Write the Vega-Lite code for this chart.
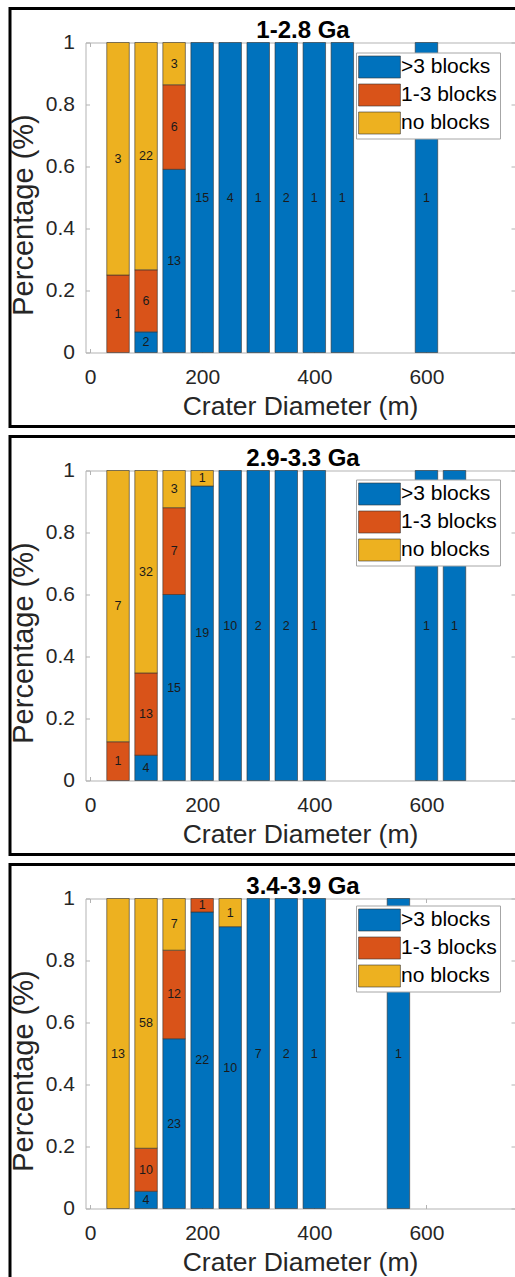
{
  "$schema": "https://vega.github.io/schema/vega-lite/v6.json",
  "padding": {"left": 7, "top": 6.5, "right": 0, "bottom": 0},
  "background": "white",
  "spacing": 6,
  "datasets": {
    "blocks": [
      {"panel": "1-2.8 Ga", "diam": 50, "cat": "1-3 blocks", "lvl": 1, "n": 1},
      {"panel": "1-2.8 Ga", "diam": 50, "cat": "no blocks", "lvl": 0, "n": 3},
      {"panel": "1-2.8 Ga", "diam": 100, "cat": ">3 blocks", "lvl": 2, "n": 2},
      {"panel": "1-2.8 Ga", "diam": 100, "cat": "1-3 blocks", "lvl": 1, "n": 6},
      {"panel": "1-2.8 Ga", "diam": 100, "cat": "no blocks", "lvl": 0, "n": 22},
      {"panel": "1-2.8 Ga", "diam": 150, "cat": ">3 blocks", "lvl": 2, "n": 13},
      {"panel": "1-2.8 Ga", "diam": 150, "cat": "1-3 blocks", "lvl": 1, "n": 6},
      {"panel": "1-2.8 Ga", "diam": 150, "cat": "no blocks", "lvl": 0, "n": 3},
      {"panel": "1-2.8 Ga", "diam": 200, "cat": ">3 blocks", "lvl": 2, "n": 15},
      {"panel": "1-2.8 Ga", "diam": 250, "cat": ">3 blocks", "lvl": 2, "n": 4},
      {"panel": "1-2.8 Ga", "diam": 300, "cat": ">3 blocks", "lvl": 2, "n": 1},
      {"panel": "1-2.8 Ga", "diam": 350, "cat": ">3 blocks", "lvl": 2, "n": 2},
      {"panel": "1-2.8 Ga", "diam": 400, "cat": ">3 blocks", "lvl": 2, "n": 1},
      {"panel": "1-2.8 Ga", "diam": 450, "cat": ">3 blocks", "lvl": 2, "n": 1},
      {"panel": "1-2.8 Ga", "diam": 600, "cat": ">3 blocks", "lvl": 2, "n": 1},
      {"panel": "2.9-3.3 Ga", "diam": 50, "cat": "1-3 blocks", "lvl": 1, "n": 1},
      {"panel": "2.9-3.3 Ga", "diam": 50, "cat": "no blocks", "lvl": 0, "n": 7},
      {"panel": "2.9-3.3 Ga", "diam": 100, "cat": ">3 blocks", "lvl": 2, "n": 4},
      {"panel": "2.9-3.3 Ga", "diam": 100, "cat": "1-3 blocks", "lvl": 1, "n": 13},
      {"panel": "2.9-3.3 Ga", "diam": 100, "cat": "no blocks", "lvl": 0, "n": 32},
      {"panel": "2.9-3.3 Ga", "diam": 150, "cat": ">3 blocks", "lvl": 2, "n": 15},
      {"panel": "2.9-3.3 Ga", "diam": 150, "cat": "1-3 blocks", "lvl": 1, "n": 7},
      {"panel": "2.9-3.3 Ga", "diam": 150, "cat": "no blocks", "lvl": 0, "n": 3},
      {"panel": "2.9-3.3 Ga", "diam": 200, "cat": ">3 blocks", "lvl": 2, "n": 19},
      {"panel": "2.9-3.3 Ga", "diam": 200, "cat": "no blocks", "lvl": 0, "n": 1},
      {"panel": "2.9-3.3 Ga", "diam": 250, "cat": ">3 blocks", "lvl": 2, "n": 10},
      {"panel": "2.9-3.3 Ga", "diam": 300, "cat": ">3 blocks", "lvl": 2, "n": 2},
      {"panel": "2.9-3.3 Ga", "diam": 350, "cat": ">3 blocks", "lvl": 2, "n": 2},
      {"panel": "2.9-3.3 Ga", "diam": 400, "cat": ">3 blocks", "lvl": 2, "n": 1},
      {"panel": "2.9-3.3 Ga", "diam": 600, "cat": ">3 blocks", "lvl": 2, "n": 1},
      {"panel": "2.9-3.3 Ga", "diam": 650, "cat": ">3 blocks", "lvl": 2, "n": 1},
      {"panel": "3.4-3.9 Ga", "diam": 50, "cat": "no blocks", "lvl": 0, "n": 13},
      {"panel": "3.4-3.9 Ga", "diam": 100, "cat": ">3 blocks", "lvl": 2, "n": 4},
      {"panel": "3.4-3.9 Ga", "diam": 100, "cat": "1-3 blocks", "lvl": 1, "n": 10},
      {"panel": "3.4-3.9 Ga", "diam": 100, "cat": "no blocks", "lvl": 0, "n": 58},
      {"panel": "3.4-3.9 Ga", "diam": 150, "cat": ">3 blocks", "lvl": 2, "n": 23},
      {"panel": "3.4-3.9 Ga", "diam": 150, "cat": "1-3 blocks", "lvl": 1, "n": 12},
      {"panel": "3.4-3.9 Ga", "diam": 150, "cat": "no blocks", "lvl": 0, "n": 7},
      {"panel": "3.4-3.9 Ga", "diam": 200, "cat": ">3 blocks", "lvl": 2, "n": 22},
      {"panel": "3.4-3.9 Ga", "diam": 200, "cat": "1-3 blocks", "lvl": 1, "n": 1},
      {"panel": "3.4-3.9 Ga", "diam": 250, "cat": ">3 blocks", "lvl": 2, "n": 10},
      {"panel": "3.4-3.9 Ga", "diam": 250, "cat": "no blocks", "lvl": 0, "n": 1},
      {"panel": "3.4-3.9 Ga", "diam": 300, "cat": ">3 blocks", "lvl": 2, "n": 7},
      {"panel": "3.4-3.9 Ga", "diam": 350, "cat": ">3 blocks", "lvl": 2, "n": 2},
      {"panel": "3.4-3.9 Ga", "diam": 400, "cat": ">3 blocks", "lvl": 2, "n": 1},
      {"panel": "3.4-3.9 Ga", "diam": 550, "cat": ">3 blocks", "lvl": 2, "n": 1}
    ]
  },
  "config": {
    "view": {"stroke": "black", "strokeWidth": 3},
    "font": "Liberation Sans",
    "axis": {"grid": false, "labelFont": "Liberation Sans", "titleFont": "Liberation Sans"},
    "title": {"font": "Liberation Sans"}
  },
  "resolve": {"scale": {"color": "independent"}, "legend": {"color": "independent"}},
  "vconcat": [
    {
      "width": 510, "height": 418,
      "title": {"text": "1-2.8 Ga", "fontSize": 24, "fontWeight": "bold", "color": "black", "anchor": "middle", "frame": "group", "dx": 38, "offset": -34},
      "data": {"name": "blocks"},
      "transform": [
        {"filter": "datum.panel === '1-2.8 Ga'"},
        {"stack": "n", "groupby": ["diam"], "sort": [{"field": "lvl", "order": "descending"}], "offset": "normalize", "as": ["y0", "y1"]}
      ],
      "layer": [
        {
          "mark": {"type": "bar", "width": 22.5, "stroke": "#333333", "strokeWidth": 0.6},
          "encoding": {
            "x": {"field": "diam", "type": "quantitative",
              "scale": {"domain": [-8, 757], "range": [75.5, 504.5], "nice": false, "zero": false, "padding": 0},
              "axis": {"orient": "bottom", "offset": -74, "values": [0, 200, 400, 600], "title": "Crater Diameter (m)", "titleFontSize": 26.5, "titleFontWeight": "normal", "titleColor": "#262626", "labelFontSize": 21, "labelColor": "#262626", "domainColor": "#b3b3b3", "tickColor": "#b3b3b3", "tickSize": -4, "labelPadding": 18, "labelFlush": false, "labelOverlap": false, "titlePadding": 6}},
            "y": {"field": "y0", "type": "quantitative",
              "scale": {"domain": [0, 1], "range": [344, 34], "nice": false, "zero": false, "padding": 0},
              "axis": {"orient": "left", "offset": -75.5, "values": [0, 0.2, 0.4, 0.6, 0.8, 1], "format": "~g", "title": "Percentage (%)", "titleFontSize": 29, "titleFontWeight": "normal", "titleColor": "#262626", "labelFontSize": 21, "labelColor": "#262626", "domainColor": "#b3b3b3", "tickColor": "#b3b3b3", "tickSize": -4, "labelPadding": 15, "labelFlush": false, "labelOverlap": false, "titleX": -47.5, "titleY": 206}},
            "y2": {"field": "y1"},
            "color": {"field": "cat", "type": "nominal",
              "scale": {"domain": [">3 blocks", "1-3 blocks", "no blocks"], "range": ["#0072BD", "#D95319", "#EDB120"]},
              "legend": {"orient": "none", "legendX": 346, "legendY": 44, "title": null, "labelFontSize": 21, "labelColor": "black", "labelFont": "Liberation Sans", "symbolType": "M-1.9,-1H1.9V1H-1.9Z", "symbolSize": 484, "symbolStrokeColor": "#333333", "symbolStrokeWidth": 0.6, "symbolOpacity": 1, "fillColor": "white", "strokeColor": "#a6a6a6", "padding": 3, "rowPadding": 3, "labelOffset": 10, "symbolOffset": 9}}
          }
        },
        {
          "transform": [
            {"fold": ["y0", "y1"], "as": ["k", "v"]},
            {"aggregate": [{"op": "mean", "field": "v", "as": "mid"}], "groupby": ["diam", "cat", "n"]}
          ],
          "mark": {"type": "text", "fontSize": 12.5, "color": "#1a1a1a"},
          "encoding": {
            "x": {"field": "diam", "type": "quantitative",
              "axis": {"orient": "top", "offset": -34, "values": [0, 200, 400, 600], "labels": false, "title": null, "domainColor": "#b3b3b3", "tickColor": "#b3b3b3", "tickSize": -4}},
            "y": {"field": "mid", "type": "quantitative",
              "axis": {"orient": "right", "offset": -5, "values": [0, 0.2, 0.4, 0.6, 0.8, 1], "labels": false, "title": null, "domainColor": "#b3b3b3", "tickColor": "#b3b3b3", "tickSize": -4}},
            "text": {"field": "n", "type": "quantitative"}
          }
        }
      ],
      "resolve": {"axis": {"x": "independent", "y": "independent"}}
    },
    {
      "width": 510, "height": 418,
      "title": {"text": "2.9-3.3 Ga", "fontSize": 24, "fontWeight": "bold", "color": "black", "anchor": "middle", "frame": "group", "dx": 38, "offset": -34},
      "data": {"name": "blocks"},
      "transform": [
        {"filter": "datum.panel === '2.9-3.3 Ga'"},
        {"stack": "n", "groupby": ["diam"], "sort": [{"field": "lvl", "order": "descending"}], "offset": "normalize", "as": ["y0", "y1"]}
      ],
      "layer": [
        {
          "mark": {"type": "bar", "width": 22.5, "stroke": "#333333", "strokeWidth": 0.6},
          "encoding": {
            "x": {"field": "diam", "type": "quantitative",
              "scale": {"domain": [-8, 757], "range": [75.5, 504.5], "nice": false, "zero": false, "padding": 0},
              "axis": {"orient": "bottom", "offset": -74, "values": [0, 200, 400, 600], "title": "Crater Diameter (m)", "titleFontSize": 26.5, "titleFontWeight": "normal", "titleColor": "#262626", "labelFontSize": 21, "labelColor": "#262626", "domainColor": "#b3b3b3", "tickColor": "#b3b3b3", "tickSize": -4, "labelPadding": 18, "labelFlush": false, "labelOverlap": false, "titlePadding": 6}},
            "y": {"field": "y0", "type": "quantitative",
              "scale": {"domain": [0, 1], "range": [344, 34], "nice": false, "zero": false, "padding": 0},
              "axis": {"orient": "left", "offset": -75.5, "values": [0, 0.2, 0.4, 0.6, 0.8, 1], "format": "~g", "title": "Percentage (%)", "titleFontSize": 29, "titleFontWeight": "normal", "titleColor": "#262626", "labelFontSize": 21, "labelColor": "#262626", "domainColor": "#b3b3b3", "tickColor": "#b3b3b3", "tickSize": -4, "labelPadding": 15, "labelFlush": false, "labelOverlap": false, "titleX": -47.5, "titleY": 206}},
            "y2": {"field": "y1"},
            "color": {"field": "cat", "type": "nominal",
              "scale": {"domain": [">3 blocks", "1-3 blocks", "no blocks"], "range": ["#0072BD", "#D95319", "#EDB120"]},
              "legend": {"orient": "none", "legendX": 346, "legendY": 43, "title": null, "labelFontSize": 21, "labelColor": "black", "labelFont": "Liberation Sans", "symbolType": "M-1.9,-1H1.9V1H-1.9Z", "symbolSize": 484, "symbolStrokeColor": "#333333", "symbolStrokeWidth": 0.6, "symbolOpacity": 1, "fillColor": "white", "strokeColor": "#a6a6a6", "padding": 3, "rowPadding": 3, "labelOffset": 10, "symbolOffset": 9}}
          }
        },
        {
          "transform": [
            {"fold": ["y0", "y1"], "as": ["k", "v"]},
            {"aggregate": [{"op": "mean", "field": "v", "as": "mid"}], "groupby": ["diam", "cat", "n"]}
          ],
          "mark": {"type": "text", "fontSize": 12.5, "color": "#1a1a1a"},
          "encoding": {
            "x": {"field": "diam", "type": "quantitative",
              "axis": {"orient": "top", "offset": -34, "values": [0, 200, 400, 600], "labels": false, "title": null, "domainColor": "#b3b3b3", "tickColor": "#b3b3b3", "tickSize": -4}},
            "y": {"field": "mid", "type": "quantitative",
              "axis": {"orient": "right", "offset": -5, "values": [0, 0.2, 0.4, 0.6, 0.8, 1], "labels": false, "title": null, "domainColor": "#b3b3b3", "tickColor": "#b3b3b3", "tickSize": -4}},
            "text": {"field": "n", "type": "quantitative"}
          }
        }
      ],
      "resolve": {"axis": {"x": "independent", "y": "independent"}}
    },
    {
      "width": 510, "height": 418,
      "title": {"text": "3.4-3.9 Ga", "fontSize": 24, "fontWeight": "bold", "color": "black", "anchor": "middle", "frame": "group", "dx": 38, "offset": -34},
      "data": {"name": "blocks"},
      "transform": [
        {"filter": "datum.panel === '3.4-3.9 Ga'"},
        {"stack": "n", "groupby": ["diam"], "sort": [{"field": "lvl", "order": "descending"}], "offset": "normalize", "as": ["y0", "y1"]}
      ],
      "layer": [
        {
          "mark": {"type": "bar", "width": 22.5, "stroke": "#333333", "strokeWidth": 0.6},
          "encoding": {
            "x": {"field": "diam", "type": "quantitative",
              "scale": {"domain": [-8, 757], "range": [75.5, 504.5], "nice": false, "zero": false, "padding": 0},
              "axis": {"orient": "bottom", "offset": -74, "values": [0, 200, 400, 600], "title": "Crater Diameter (m)", "titleFontSize": 26.5, "titleFontWeight": "normal", "titleColor": "#262626", "labelFontSize": 21, "labelColor": "#262626", "domainColor": "#b3b3b3", "tickColor": "#b3b3b3", "tickSize": -4, "labelPadding": 18, "labelFlush": false, "labelOverlap": false, "titlePadding": 6}},
            "y": {"field": "y0", "type": "quantitative",
              "scale": {"domain": [0, 1], "range": [344, 34], "nice": false, "zero": false, "padding": 0},
              "axis": {"orient": "left", "offset": -75.5, "values": [0, 0.2, 0.4, 0.6, 0.8, 1], "format": "~g", "title": "Percentage (%)", "titleFontSize": 29, "titleFontWeight": "normal", "titleColor": "#262626", "labelFontSize": 21, "labelColor": "#262626", "domainColor": "#b3b3b3", "tickColor": "#b3b3b3", "tickSize": -4, "labelPadding": 15, "labelFlush": false, "labelOverlap": false, "titleX": -47.5, "titleY": 206}},
            "y2": {"field": "y1"},
            "color": {"field": "cat", "type": "nominal",
              "scale": {"domain": [">3 blocks", "1-3 blocks", "no blocks"], "range": ["#0072BD", "#D95319", "#EDB120"]},
              "legend": {"orient": "none", "legendX": 346, "legendY": 41, "title": null, "labelFontSize": 21, "labelColor": "black", "labelFont": "Liberation Sans", "symbolType": "M-1.9,-1H1.9V1H-1.9Z", "symbolSize": 484, "symbolStrokeColor": "#333333", "symbolStrokeWidth": 0.6, "symbolOpacity": 1, "fillColor": "white", "strokeColor": "#a6a6a6", "padding": 3, "rowPadding": 3, "labelOffset": 10, "symbolOffset": 9}}
          }
        },
        {
          "transform": [
            {"fold": ["y0", "y1"], "as": ["k", "v"]},
            {"aggregate": [{"op": "mean", "field": "v", "as": "mid"}], "groupby": ["diam", "cat", "n"]}
          ],
          "mark": {"type": "text", "fontSize": 12.5, "color": "#1a1a1a"},
          "encoding": {
            "x": {"field": "diam", "type": "quantitative",
              "axis": {"orient": "top", "offset": -34, "values": [0, 200, 400, 600], "labels": false, "title": null, "domainColor": "#b3b3b3", "tickColor": "#b3b3b3", "tickSize": -4}},
            "y": {"field": "mid", "type": "quantitative",
              "axis": {"orient": "right", "offset": -5, "values": [0, 0.2, 0.4, 0.6, 0.8, 1], "labels": false, "title": null, "domainColor": "#b3b3b3", "tickColor": "#b3b3b3", "tickSize": -4}},
            "text": {"field": "n", "type": "quantitative"}
          }
        }
      ],
      "resolve": {"axis": {"x": "independent", "y": "independent"}}
    }
  ]
}
